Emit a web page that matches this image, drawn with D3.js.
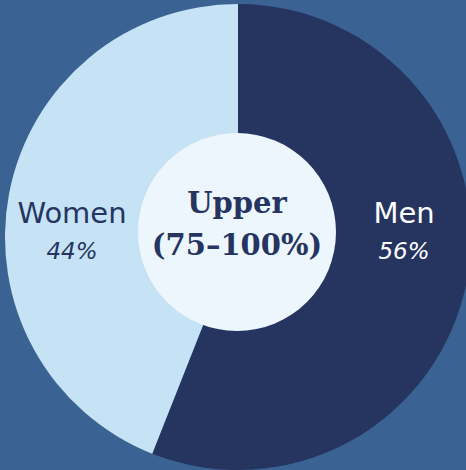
<!DOCTYPE html>
<html>
<head>
<meta charset="utf-8">
<script src="https://cdn.jsdelivr.net/npm/d3@7"></script>
<style>
  html, body { margin: 0; padding: 0; background: #3a6394; }
  svg { display: block; }
</style>
</head>
<body>
<svg id="chart" width="466" height="470"></svg>
<script>
// data
const categories = ["Men", "Women"];
const shares = [56, 44];
const shareLabels = ["56%", "44%"];
const centerLines = ["Upper", "(75–100%)"];

const width = 466, height = 470;
const cx = 238, cy = 237;
const outerR = 233, holeR = 99;
const colors = { Men: "#263560", Women: "#c5e3f5" };
const textColors = { Men: "#ffffff", Women: "#263560" };

const svg = d3.select("#chart");
svg.append("rect").attr("width", width).attr("height", height).attr("fill", "#3a6394");

const data = categories.map((c, i) => ({ name: c, value: shares[i], label: shareLabels[i] }));

const pie = d3.pie().value(d => d.value).sort(null);
const arc = d3.arc().innerRadius(0).outerRadius(outerR);

const g = svg.append("g").attr("transform", `translate(${cx},${cy})`);

g.selectAll("path")
  .data(pie(data))
  .join("path")
  .attr("d", arc)
  .attr("fill", d => colors[d.data.name]);

// center hole
g.append("circle")
  .attr("cx", -1)
  .attr("cy", -5)
  .attr("r", holeR)
  .attr("fill", "#edf6fd");

// side labels sit midway across the ring, on the horizontal
const labelR = (outerR + holeR) / 2;
const side = { Men: 1, Women: -1 };
const labels = g.selectAll(".lbl")
  .data(data)
  .join("g")
  .attr("class", "lbl")
  .attr("transform", d => `translate(${side[d.name] * labelR},0)`);

labels.append("text")
  .attr("text-anchor", "middle")
  .attr("y", -14)
  .attr("font-family", "'DejaVu Sans', sans-serif")
  .attr("font-size", 29)
  .attr("fill", d => textColors[d.name])
  .text(d => d.name);

labels.append("text")
  .attr("text-anchor", "middle")
  .attr("y", 22)
  .attr("font-family", "'DejaVu Sans', sans-serif")
  .attr("font-style", "italic")
  .attr("font-size", 23)
  .attr("fill", d => textColors[d.name])
  .text(d => d.label);

// center title
g.append("text")
  .attr("text-anchor", "middle")
  .attr("font-family", "'DejaVu Serif', serif")
  .attr("font-weight", "bold")
  .attr("font-size", 29)
  .attr("fill", "#263560")
  .selectAll("tspan")
  .data(centerLines)
  .join("tspan")
  .attr("x", -1)
  .attr("y", (d, i) => -24 + i * 42)
  .text(d => d);
</script>
</body>
</html>
